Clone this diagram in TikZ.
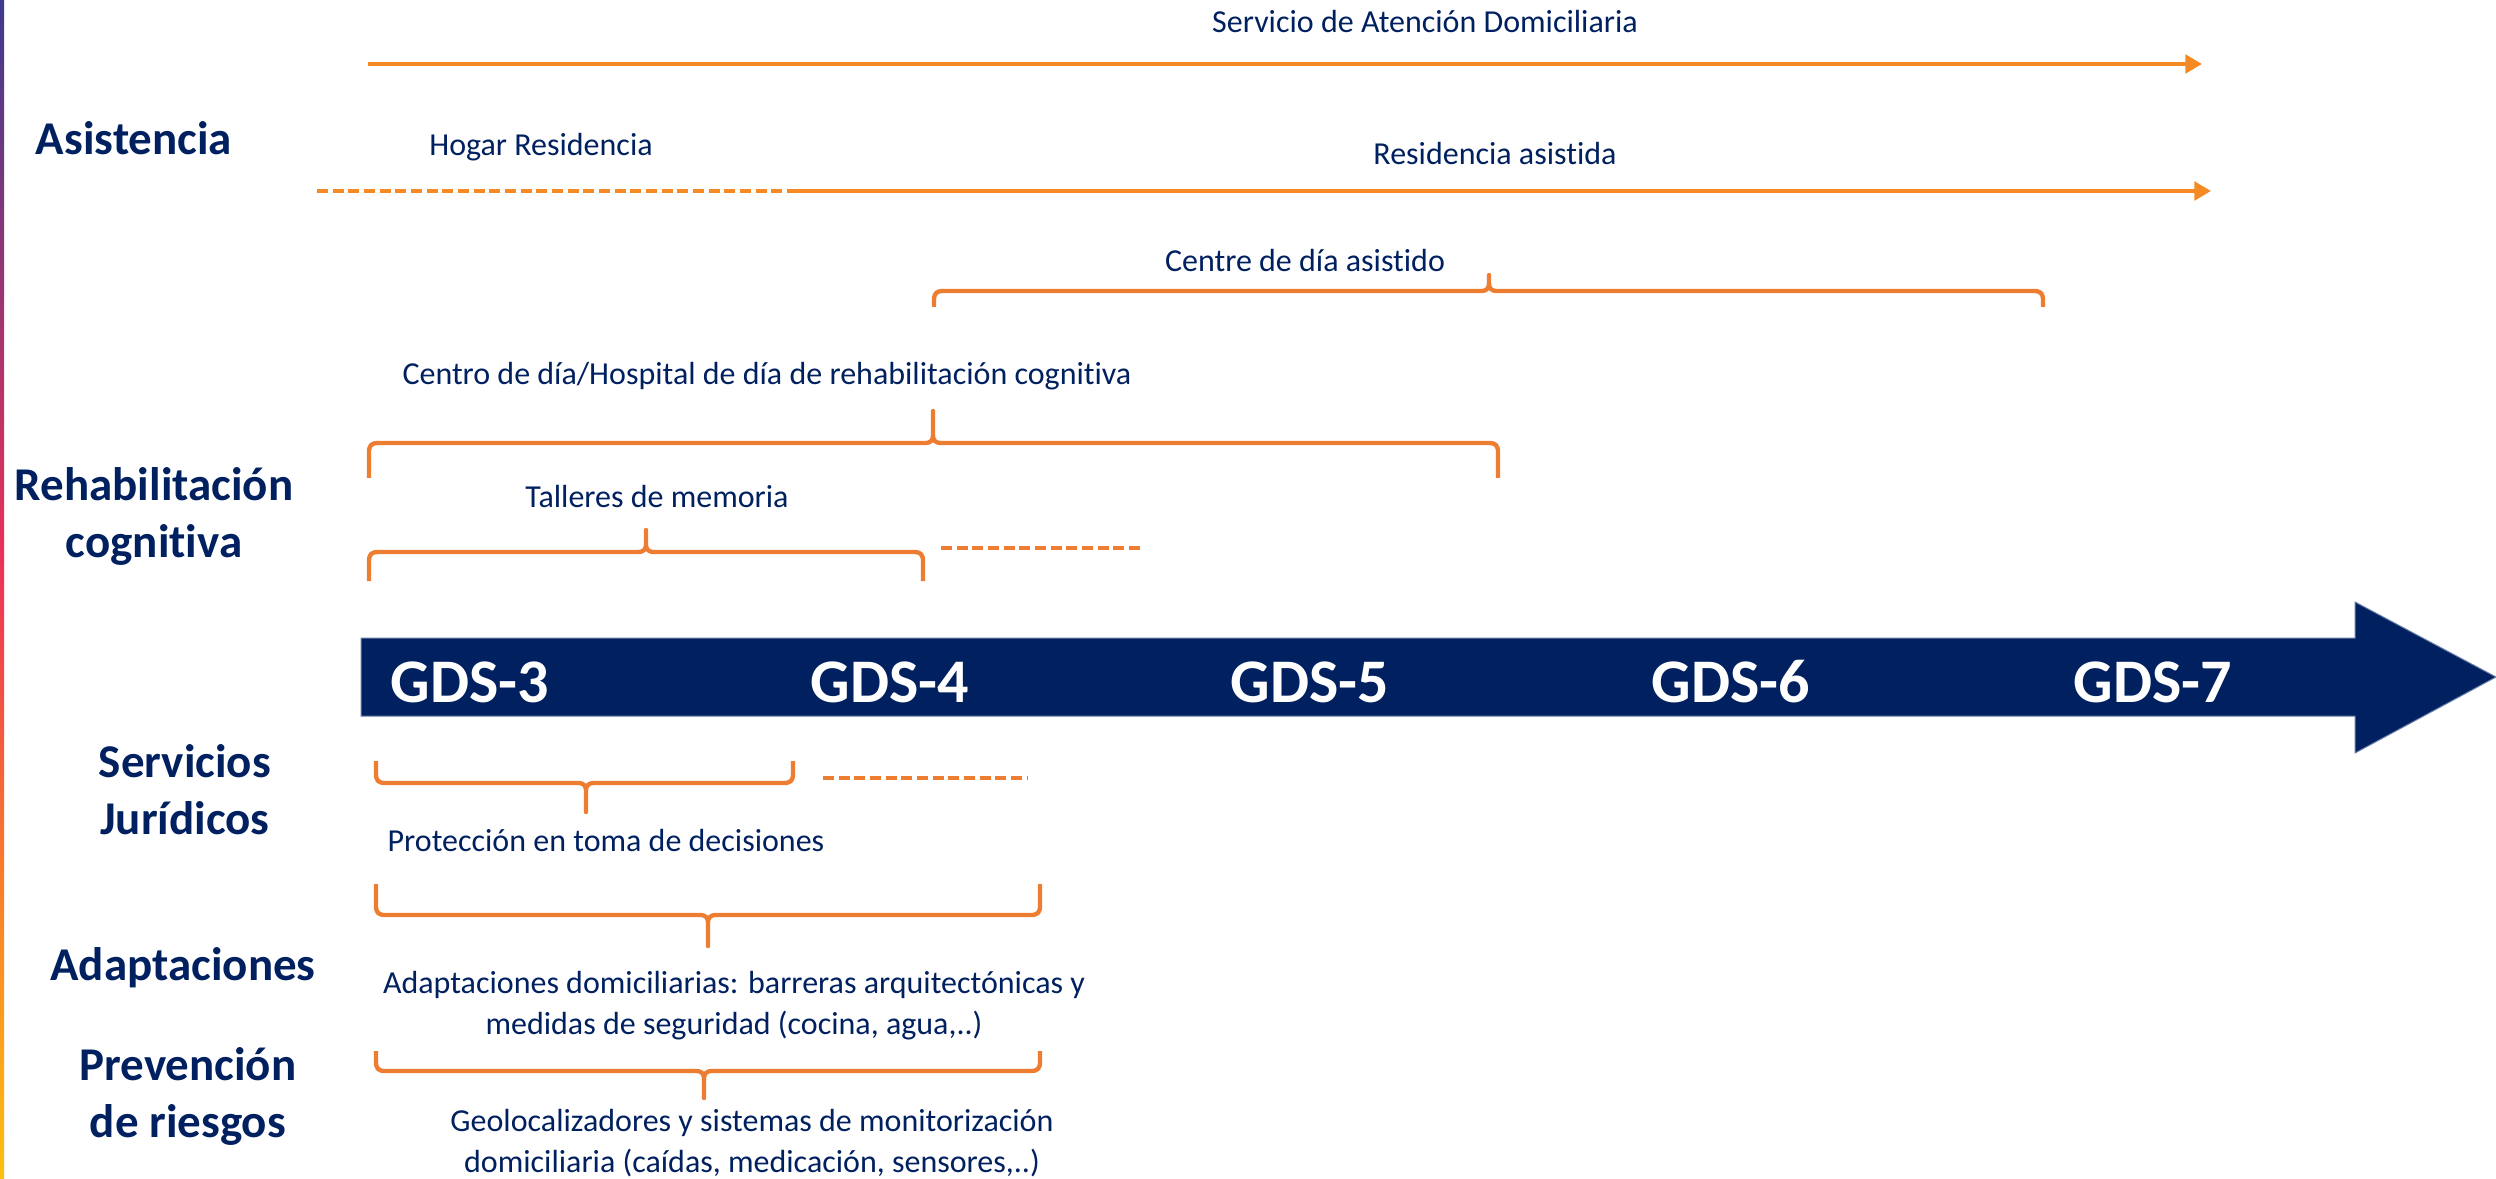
\documentclass[tikz,border=0pt]{standalone}
\usepackage{fontspec}
\setmainfont{Carlito}[Ligatures=NoCommon]
\usetikzlibrary{arrows.meta}
\definecolor{navy}{HTML}{002060}
\definecolor{aor}{HTML}{F58A24}
\definecolor{bor}{HTML}{ED7D31}
\definecolor{gpur}{HTML}{3E3A8E}
\definecolor{gred}{HTML}{EC3158}
\definecolor{gora}{HTML}{F77B2B}
\definecolor{gyel}{HTML}{FCC010}
\definecolor{edge}{HTML}{6A7FA8}
\tikzset{
  body/.style={text=navy, font=\fontsize{9.6}{12.3}\selectfont, align=center, inner sep=0pt},
  cat/.style={text=navy, font=\fontsize{14.1}{17.1}\selectfont\bfseries, align=center, inner sep=0pt},
  gds/.style={text=white, font=\fontsize{18.6}{22}\selectfont\bfseries, inner sep=0pt},
  oarrow/.style={draw=aor, line width=1.25pt, -{Triangle[length=5pt,width=5.5pt]}},
  odash/.style={draw=aor, line width=1.25pt, dash pattern=on 3.3pt off 1.4pt},
  bdash/.style={draw=bor, line width=1.25pt, dash pattern=on 3.3pt off 1.4pt},
  brace/.style={draw=bor, line width=1.3pt, line join=round},
}
% brace with tip pointing up: x1 x2 xtip y yend ytip
\newcommand{\mybrup}[6]{%
\draw[brace] (#1,#5) -- (#1,#4+10) .. controls (#1,#4+2) and (#1+2,#4) .. (#1+10,#4)
 -- (#3-9,#4) .. controls (#3-2,#4) and (#3,#4-2) .. (#3,#4-9) -- (#3,#6)
 -- (#3,#4-9) .. controls (#3,#4-2) and (#3+2,#4) .. (#3+9,#4)
 -- (#2-10,#4) .. controls (#2-2,#4) and (#2,#4+2) .. (#2,#4+10) -- (#2,#5);}
% brace with tip pointing down
\newcommand{\mybrdn}[6]{%
\draw[brace] (#1,#5) -- (#1,#4-10) .. controls (#1,#4-2) and (#1+2,#4) .. (#1+10,#4)
 -- (#3-9,#4) .. controls (#3-2,#4) and (#3,#4+2) .. (#3,#4+9) -- (#3,#6)
 -- (#3,#4+9) .. controls (#3,#4+2) and (#3+2,#4) .. (#3+9,#4)
 -- (#2-10,#4) .. controls (#2-2,#4) and (#2,#4-2) .. (#2,#4-10) -- (#2,#5);}
\begin{document}
\begin{tikzpicture}[x=0.3pt, y=-0.3pt]
\useasboundingbox (0,0) rectangle (2496,1179);
% left gradient bar
\shade[top color=gpur, bottom color=gred] (0,0) rectangle (4,560);
\shade[top color=gred, bottom color=gyel, middle color=gora] (0,559) rectangle (4,1179);

% big timeline arrow
\filldraw[fill=navy, draw=edge, line width=0.3pt] (361,638) -- (2355,638) -- (2355,602) -- (2496,677) -- (2355,753) -- (2355,716) -- (361,716) -- cycle;
\node[gds] (g3) at (470,682) {GDS-3};
\node[gds] (g4) at (890,682) {GDS-4};
\node[gds] (g5) at (1310,682) {GDS-5};
\node[gds] (g6) at (1731,682) {GDS-6};
\node[gds] (g7) at (2153,682) {GDS-7};

% category labels
\node[cat] (cAsis) at (134,138) {Asistencia};
\node[cat] (cRehab) at (154,516) {Rehabilitación\\cognitiva};
\node[cat] (cJur) at (185,790) {Servicios\\Jurídicos};
\node[cat] (cAdap) at (183,968) {Adaptaciones};
\node[cat] (cPrev) at (188,1096) {Prevención\\de riesgos};

% Asistencia
\node[body] (tSAD) at (1425,22) {Servicio de Atención Domiciliaria};
\coordinate (a1s) at (368,64);
\coordinate (a1e) at (2202,64);
\draw[oarrow] (a1s) -- (a1e);

\node[body] (tHog) at (541,147) {Hogar Residencia};
\node[body] (tRes) at (1495,154) {Residencia asistida};
\coordinate (a2s) at (317,191);
\coordinate (a2m) at (791,191);
\coordinate (a2e) at (2211,191);
\draw[odash] (a2s) -- (a2m);
\draw[oarrow] (a2m) -- (a2e);

\node[body] (tCDA) at (1305,261) {Centre de día asistido};
\mybrup{934}{2043}{1489}{291}{307}{275}

% Rehabilitacion
\node[body] (tCDH) at (767,376) {Centro de día/Hospital de día de rehabilitación cognitiva};
\mybrup{369}{1498}{933}{443}{478}{411}

\node[body] (tTal) at (657,497) {Talleres de memoria};
\mybrup{369}{923}{646}{552}{581}{530}
\coordinate (d1s) at (941,548);
\coordinate (d1e) at (1143,548);
\draw[bdash] (d1s) -- (d1e);

% Servicios juridicos
\mybrdn{376}{793}{586}{783}{761}{812}
\coordinate (d2s) at (823,778);
\coordinate (d2e) at (1027,778);
\draw[bdash] (d2s) -- (d2e);
\node[body] (tPro) at (606,841) {Protección en toma de decisiones};

% Adaptaciones
\mybrdn{376}{1040}{708}{915}{884}{946}
\node[body] (tAda) at (734,1006) {Adaptaciones domiciliarias: barreras arquitectónicas y\\medidas de seguridad (cocina, agua,..)};

% Prevencion
\mybrdn{376}{1040}{704}{1071}{1051}{1098}
\node[body] (tGeo) at (752,1143) {Geolocalizadores y sistemas de monitorización\\domiciliaria (caídas, medicación, sensores,..)};
\end{tikzpicture}
\end{document}
